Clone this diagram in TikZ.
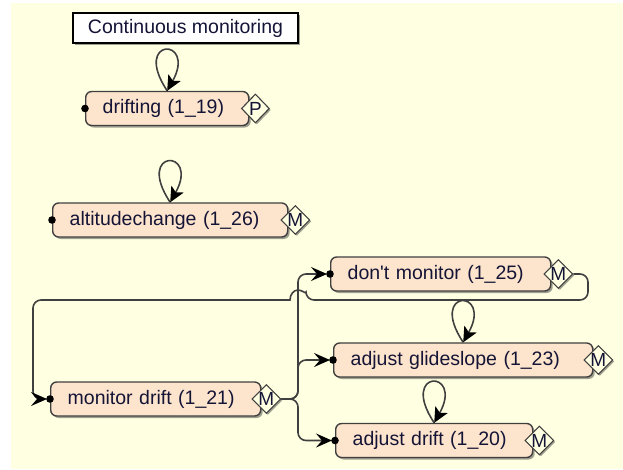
\documentclass[tikz,border=0pt]{standalone}
\usepackage{fontspec}
\setmainfont{Liberation Sans}
\usetikzlibrary{arrows.meta,shapes.geometric,shadows,calc}
\definecolor{bg}{RGB}{255,255,225}
\definecolor{peach}{RGB}{253,228,204}
\definecolor{bord}{RGB}{64,64,64}
\definecolor{txt}{RGB}{20,20,55}
\definecolor{shad}{RGB}{160,160,145}
\begin{document}
\begin{tikzpicture}[x=1pt,y=-1pt,
  state/.style={draw=bord, line width=1.4pt, fill=peach, rounded corners=6pt,
    minimum height=34pt, anchor=west, inner xsep=17pt, inner ysep=0pt, align=left,
    font=\fontsize{19.5}{22}\selectfont, text=txt,
    drop shadow={shadow xshift=2pt,shadow yshift=-2pt,fill=shad,opacity=1}},
  mk/.style={diamond, draw=bord, line width=1.1pt, fill=bg, inner sep=0pt,
    minimum width=28pt, minimum height=29pt, font=\fontsize{19}{22}\selectfont, text=txt,
    drop shadow={shadow xshift=1.5pt,shadow yshift=-1.5pt,fill=shad,opacity=1}},
  titlebox/.style={draw=black, line width=1.3pt, fill=white, minimum width=225pt,
    minimum height=30pt, inner sep=0pt, font=\fontsize{19.5}{22}\selectfont, text=txt,
    drop shadow={shadow xshift=2pt,shadow yshift=-2pt,fill=shad,opacity=1}},
  conn/.style={draw=bord, line width=1.6pt},
  arr/.style={-{Stealth[length=16pt,width=14pt,inset=6pt,color=black]}},
  selfloop/.style={conn, -{Stealth[length=15pt,width=14pt,inset=3.5pt,color=black]}},
  dot/.style={fill=black}
]
\useasboundingbox (0,0) rectangle (623,469);
\fill[bg] (11,3) rectangle (623,469);

% title
\node[titlebox] (title) at (185.5,28) {Continuous monitoring};

% states
\node[state, text width=129pt] (d) at (85,108.5) {drifting (1\_19)};
\node[mk] (dm) at ($(d.east)+(6,0)$) {P};

\node[state, text width=201pt] (a) at (52,220) {altitudechange (1\_26)};
\node[mk] (am) at ($(a.east)+(7,0)$) {M};

\node[state, text width=176pt] (md) at (50,399) {monitor drift (1\_21)};
\node[mk] (mdm) at ($(md.east)+(5,0)$) {M};

\node[state, text width=186pt] (dn) at (330,274) {don\textquotesingle t monitor (1\_25)};
\node[mk] (dnm) at ($(dn.east)+(7,0)$) {M};

\node[state, text width=225pt] (ag) at (333,360) {adjust glideslope (1\_23)};
\node[mk] (agm) at ($(ag.east)+(5,0)$) {M};

\node[state, text width=163pt] (ad) at (335,440.5) {adjust drift (1\_20)};
\node[mk] (adm) at ($(ad.east)+(6,0)$) {M};

% self loops
\draw[selfloop] (d.north) .. controls +(-36,-54) and +(30,-54) .. (d.north);
\draw[selfloop] (a.north) .. controls +(-36,-54) and +(30,-54) .. (a.north);
\draw[selfloop] (ag.north) .. controls +(-36,-54) and +(30,-54) .. (ag.north);
\draw[selfloop] (ad.north) .. controls +(-36,-54) and +(30,-54) .. (ad.north);

% branches from monitor drift
\draw[conn, arr, rounded corners=8pt, shorten >=3pt] (mdm.east) -- (298,399) -- (298,274) -- (dn.west);
\draw[conn, arr, rounded corners=8pt, shorten >=3pt] (mdm.east) -- (298,399) -- (298,360) -- (ag.west);
\draw[conn, arr, rounded corners=8pt, shorten >=3pt] (mdm.east) -- (298,399) -- (298,440.5) -- (ad.west);

% loop from don't monitor back to monitor drift
\draw[conn, arr, shorten >=3pt] (dnm.east) [rounded corners=8pt] -- (588,274) -- (588,300) -- (306,300)
  [sharp corners] arc[start angle=0, end angle=180, x radius=8pt, y radius=10pt]
  [rounded corners=8pt] -- (33,300) -- (33,399) -- (md.west);

% entry dots
\foreach \n in {d,a,md,dn,ag,ad} \fill[dot] (\n.west) circle (3.8pt);
\end{tikzpicture}
\end{document}
